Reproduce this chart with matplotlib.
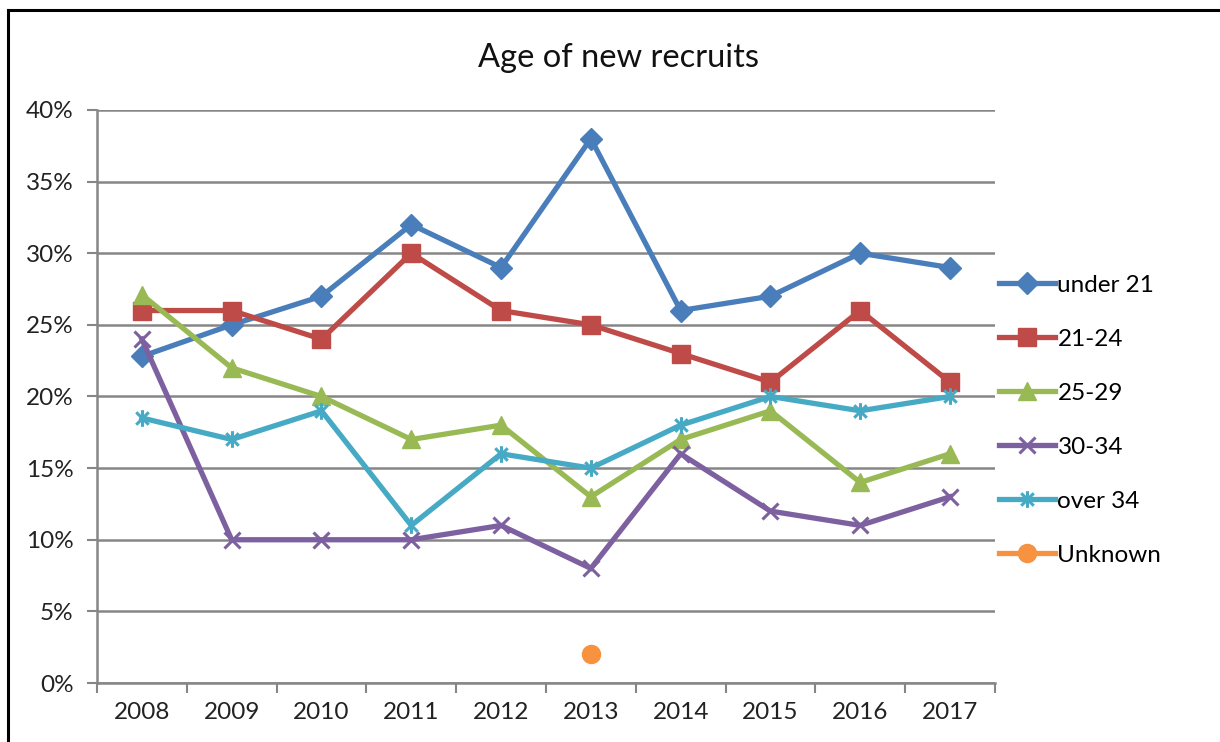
import numpy as np
import matplotlib.pyplot as plt
from matplotlib.path import Path
from matplotlib.lines import Line2D
from matplotlib.ticker import PercentFormatter, FixedLocator

plt.rcParams['font.family'] = ['Lato', 'DejaVu Sans']

years = ['2008', '2009', '2010', '2011', '2012', '2013', '2014', '2015', '2016', '2017']
under_21 = [22.8, 25, 27, 32, 29, 38, 26, 27, 30, 29]
age_21_24 = [26, 26, 24, 30, 26, 25, 23, 21, 26, 21]
age_25_29 = [27.1, 22, 20, 17, 18, 13, 17, 19, 14, 16]
age_30_34 = [24, 10, 10, 10, 11, 8, 16, 12, 11, 13]
over_34 = [18.5, 17, 19, 11, 16, 15, 18, 20, 19, 20]
unknown = [np.nan, np.nan, np.nan, np.nan, np.nan, 2, np.nan, np.nan, np.nan, np.nan]

# asterisk marker like the Excel "star"
star = Path([(0, -1), (0, 1), (-0.75, -0.75), (0.75, 0.75), (-0.75, 0.75), (0.75, -0.75)],
            [Path.MOVETO, Path.LINETO, Path.MOVETO, Path.LINETO, Path.MOVETO, Path.LINETO])

series = [
    ('under 21', under_21, '#4a7ebb', 'D', 11),
    ('21-24', age_21_24, '#be4b48', 's', 12.5),
    ('25-29', age_25_29, '#98b954', '^', 13),
    ('30-34', age_30_34, '#7d60a0', 'x', 12),
    ('over 34', over_34, '#46aac5', star, 12),
    ('Unknown', unknown, '#f69240', 'o', 13),
]

fig = plt.figure(figsize=(12.2, 7.42), dpi=100)
ax = fig.add_axes([0.0795, 0.0795, 0.736, 0.7723])

x = np.arange(len(years))
for name, vals, col, mk, ms in series:
    thin = isinstance(mk, Path) or mk == 'x'
    ax.plot(x, vals, color=col, lw=3.8, marker=mk, markersize=ms,
            markeredgewidth=2.2 if thin else 1,
            markerfacecolor=col, markeredgecolor=col, label=name,
            solid_joinstyle='miter')

gray = '#868686'
ax.set_xlim(-0.5, 9.5)
ax.set_ylim(0, 40)
ax.set_yticks(np.arange(0, 41, 5))
ax.yaxis.set_major_formatter(PercentFormatter(decimals=0))
ax.set_xticks(x)
ax.set_xticklabels(years)
ax.xaxis.set_minor_locator(FixedLocator(np.arange(-0.5, 10, 1)))
ax.tick_params(axis='x', which='major', length=0, pad=14, labelsize=17.5, colors='#222222')
ax.tick_params(axis='x', which='minor', length=7, width=1.5, color=gray, direction='out')
ax.tick_params(axis='y', length=7, width=1.5, color=gray, pad=10, labelsize=17.5, labelcolor='#222222')
ax.grid(axis='y', color=gray, lw=1.8)
ax.set_axisbelow(True)
for s in ['top', 'right']:
    ax.spines[s].set_visible(False)
for s in ['left', 'bottom']:
    ax.spines[s].set_color(gray)
    ax.spines[s].set_linewidth(1.8)

fig.text(0.507, 0.922, 'Age of new recruits', ha='center', va='center', fontsize=23.5, color='#111111')

ax.legend(loc='upper left', bbox_to_anchor=(0.811, 0.643), bbox_transform=fig.transFigure,
          frameon=False, fontsize=17.5, handlelength=2.3, handletextpad=0.1,
          labelspacing=1.36, borderaxespad=0)

# outer chart border (cut off at the right and bottom)
fig.add_artist(Line2D([0.0066, 0.0066], [0, 0.987], transform=fig.transFigure, color='black', lw=2.2))
fig.add_artist(Line2D([0.0066, 1], [0.987, 0.987], transform=fig.transFigure, color='black', lw=2.2))

fig.savefig('out.png', dpi=100)
